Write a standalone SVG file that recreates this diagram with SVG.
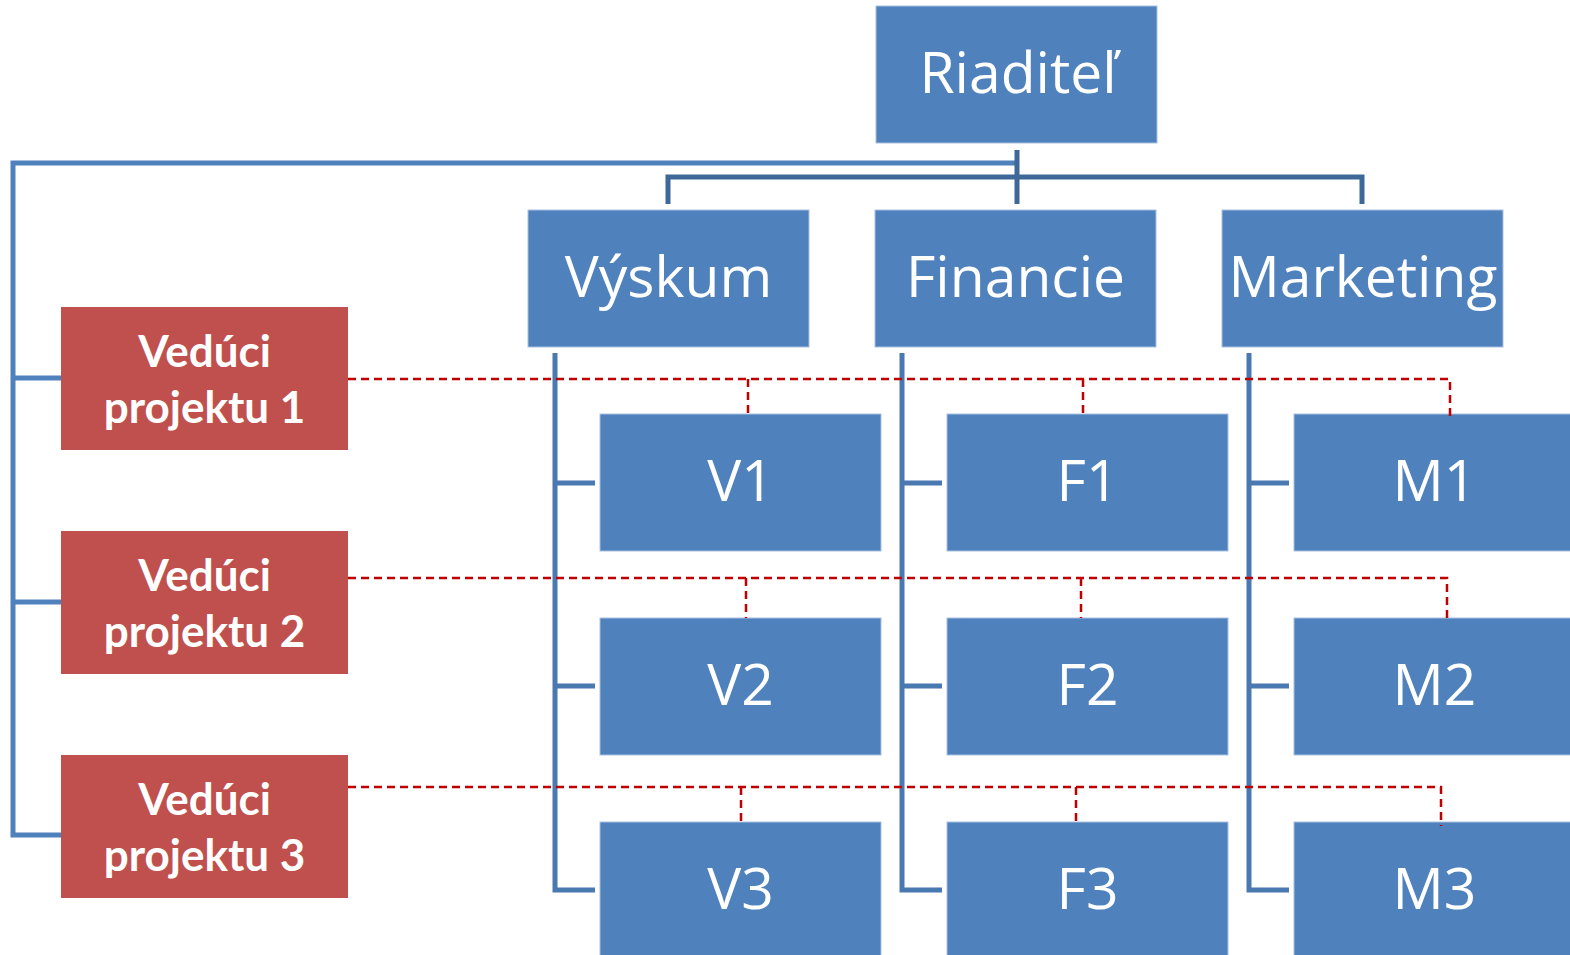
<svg xmlns="http://www.w3.org/2000/svg" width="1570" height="955" viewBox="0 0 1570 955">
  <style>
    .unit { fill: #4f81bd; stroke: #a9c1df; stroke-width: 1; }
    .lead { fill: #c0504d; }
    .lbl { font-family: "Open Sans", "DejaVu Sans", sans-serif; font-size: 57px; fill: #ffffff; text-anchor: middle; }
    .lbl-b { font-family: Lato, "Open Sans", sans-serif; font-weight: bold; font-size: 44px; fill: #ffffff; text-anchor: middle; }
    .link-top { fill: none; stroke: #3e6898; stroke-width: 5; }
    .link-col { fill: none; stroke: #4a78b0; stroke-width: 5; }
    .link-lead { fill: none; stroke: #4f81bd; stroke-width: 5; }
    .link-proj { fill: none; stroke: #c00000; stroke-width: 2.5; stroke-dasharray: 8 5; }
  </style>
  <rect width="1570" height="955" fill="#ffffff"/>

  <!-- solid reporting lines -->
  <g id="connectors">
    <path class="link-lead" d="M1018,163 H13 V835 H61 M13,378 H61 M13,602 H61"/>
    <path class="link-top" d="M1017,150 V204 M668,204 V177 H1362 V204"/>
    <path class="link-col" d="M555,353 V890 H595 M555,483 H595 M555,686 H595"/>
    <path class="link-col" d="M902,353 V890 H942 M902,483 H942 M902,686 H942"/>
    <path class="link-col" d="M1249,353 V890 H1289 M1249,483 H1289 M1249,686 H1289"/>
  </g>

  <!-- top manager -->
  <g id="riaditel"><rect class="unit" x="876" y="6" width="281" height="137"/><text class="lbl" x="1018" y="93">Riaditeľ</text></g>

  <!-- departments -->
  <g id="vyskum"><rect class="unit" x="528" y="210" width="281" height="137"/><text class="lbl" x="668.5" y="297">Výskum</text></g>
  <g id="financie"><rect class="unit" x="875" y="210" width="281" height="137"/><text class="lbl" x="1015.5" y="297">Financie</text></g>
  <g id="marketing"><rect class="unit" x="1222" y="210" width="281" height="137"/><text class="lbl" x="1363" y="297">Marketing</text></g>

  <!-- department members -->
  <g id="v1"><rect class="unit" x="600" y="414" width="281" height="137"/><text class="lbl" x="740.5" y="501">V1</text></g>
  <g id="v2"><rect class="unit" x="600" y="618" width="281" height="137"/><text class="lbl" x="740.5" y="705">V2</text></g>
  <g id="v3"><rect class="unit" x="600" y="822" width="281" height="140"/><text class="lbl" x="740.5" y="909">V3</text></g>
  <g id="f1"><rect class="unit" x="947" y="414" width="281" height="137"/><text class="lbl" x="1087.5" y="501">F1</text></g>
  <g id="f2"><rect class="unit" x="947" y="618" width="281" height="137"/><text class="lbl" x="1087.5" y="705">F2</text></g>
  <g id="f3"><rect class="unit" x="947" y="822" width="281" height="140"/><text class="lbl" x="1087.5" y="909">F3</text></g>
  <g id="m1"><rect class="unit" x="1294" y="414" width="281" height="137"/><text class="lbl" x="1434.5" y="501">M1</text></g>
  <g id="m2"><rect class="unit" x="1294" y="618" width="281" height="137"/><text class="lbl" x="1434.5" y="705">M2</text></g>
  <g id="m3"><rect class="unit" x="1294" y="822" width="281" height="140"/><text class="lbl" x="1434.5" y="909">M3</text></g>

  <!-- project leads -->
  <g id="veduci1"><rect class="lead" x="61" y="307" width="287" height="143"/><text class="lbl-b" x="204.5" y="367">Vedúci</text><text class="lbl-b" x="204.5" y="423">projektu 1</text></g>
  <g id="veduci2"><rect class="lead" x="61" y="531" width="287" height="143"/><text class="lbl-b" x="204.5" y="591">Vedúci</text><text class="lbl-b" x="204.5" y="647">projektu 2</text></g>
  <g id="veduci3"><rect class="lead" x="61" y="755" width="287" height="143"/><text class="lbl-b" x="204.5" y="815">Vedúci</text><text class="lbl-b" x="204.5" y="871">projektu 3</text></g>

  <!-- dashed project lines -->
  <g id="project-links">
    <path class="link-proj" d="M348,379 H1450 V417 M748,379 V417 M1083,379 V417"/>
    <path class="link-proj" d="M348,578 H1447 V618 M746,578 V618 M1081,578 V618"/>
    <path class="link-proj" d="M348,787 H1441 V826 M741,787 V826 M1076,787 V826"/>
  </g>
</svg>
